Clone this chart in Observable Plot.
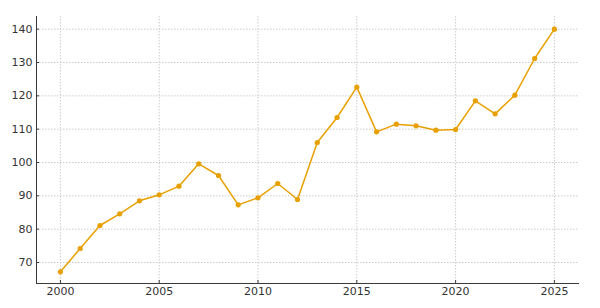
<!DOCTYPE html>
<html>
<head>
<meta charset="utf-8">
<script src="https://cdn.jsdelivr.net/npm/d3@7"></script>
<script src="https://cdn.jsdelivr.net/npm/@observablehq/plot@0.6"></script>
<style>
  html, body { margin: 0; padding: 0; background: #fff; overflow: hidden; }
  #chart svg { display: block; overflow: visible; }
</style>
</head>
<body>
<div id="chart"></div>
<script>
const years = [2000,2001,2002,2003,2004,2005,2006,2007,2008,2009,2010,2011,2012,2013,2014,2015,2016,2017,2018,2019,2020,2021,2022,2023,2024,2025];
const values = [67.2,74.2,81.1,84.6,88.5,90.3,92.9,99.6,96.1,87.3,89.4,93.7,88.9,106.0,113.5,122.6,109.2,111.5,111.0,109.7,109.9,118.5,114.6,120.2,131.2,140.0];
const xTicks = [2000,2005,2010,2015,2020,2025];
const yTicks = [70,80,90,100,110,120,130,140];
const xDomain = [1998.79, 2026.27];
const yDomain = [63.7, 143.8];
const xLabel = "Year";

const data = years.map((y, i) => ({year: y, value: values[i]}));
const lineColor = "#e8a000";
const axisColor = "#3a3a3a";

const chart = Plot.plot({
  width: 600,
  height: 308,
  marginLeft: 36,
  marginRight: 21,
  marginTop: 16,
  marginBottom: 25,
  style: {fontFamily: "DejaVu Sans", fontSize: "11px", color: "#333", background: "#fff"},
  x: {domain: xDomain},
  y: {domain: yDomain},
  marks: [
    Plot.gridX(xTicks, {stroke: "#ccc", strokeOpacity: 1, strokeDasharray: "1.5,1.5"}),
    Plot.gridY(yTicks, {stroke: "#ccc", strokeOpacity: 1, strokeDasharray: "1.5,1.5"}),
    Plot.axisX({ticks: xTicks, tickFormat: d => String(d), tickSize: -3, tickPadding: 7, stroke: axisColor, fill: "#333", label: xLabel, labelAnchor: "center", labelArrow: "none", labelOffset: 36}),
    Plot.axisY({ticks: yTicks, tickSize: -3, tickPadding: 7, stroke: axisColor, fill: "#333", label: null}),
    Plot.ruleX([xDomain[0]], {stroke: axisColor, strokeWidth: 1}),
    Plot.ruleY([yDomain[0]], {stroke: axisColor, strokeWidth: 1}),
    Plot.line(data, {x: "year", y: "value", stroke: lineColor, strokeWidth: 1.5}),
    Plot.dot(data, {x: "year", y: "value", fill: lineColor, r: 2.6})
  ]
});
document.getElementById("chart").appendChild(chart);
</script>
</body>
</html>
